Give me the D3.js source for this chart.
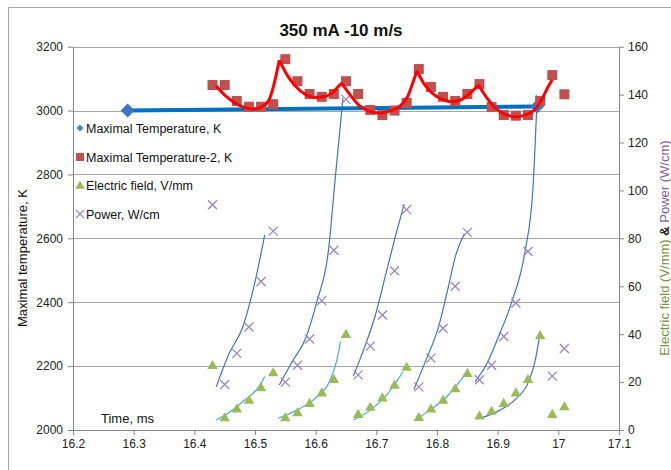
<!DOCTYPE html>
<html>
<head>
<meta charset="utf-8">
<script src="https://cdn.jsdelivr.net/npm/d3@7"></script>
<style>
  body { margin: 0; background: #fff; }
  svg { display: block; font-family: "Liberation Sans", Arial, sans-serif; }
</style>
</head>
<body>
<div id="chart"></div>
<script>
(function(){

const width = 671;
const height = 470;
const margin = {top: 46.7, right: 52, bottom: 40, left: 73};

// time axis (ms) shared by the sampled series
const timeMs = [16.43, 16.45, 16.47, 16.49, 16.51, 16.53, 16.55, 16.57, 16.59, 16.61,
                16.63, 16.65, 16.67, 16.69, 16.71, 16.73, 16.75, 16.77, 16.79, 16.81,
                16.83, 16.85, 16.87, 16.89, 16.91, 16.93, 16.95, 16.97, 16.99, 17.01];

const maxTemp2 = [3080, 3080, 3030, 3012, 3012, 3020, 3161, 3092, 3052, 3043,
                  3052, 3092, 3052, 3002, 2986, 3000, 3024, 3130, 3074, 3043,
                  3030, 3052, 3083, 3011, 2986, 2984, 2986, 3030, 3111, 3051];

const electricField = [26.7, 4.9, 8.6, 12.2, 17.4, 23.7, 4.9, 7.0, 10.9, 15.3,
                       20.9, 39.7, 6.3, 9.3, 13.2, 18.5, 26.0, 5.0, 8.6, 12.2,
                       17.0, 23.4, 5.6, 7.6, 10.9, 15.3, 20.9, 39.2, 6.3, 9.5];

const power = [94, 19, 32, 43, 62, 83, 20, 27, 38, 54,
               75, 138, 23, 35, 48, 66.5, 92, 18, 30, 42.5,
               60, 82.5, 21, 27, 39, 53, 74.5, 138, 22.5, 34];

// "Maximal Temperature, K" (two points joined by a thick line)
const maxTempTime = [16.29, 16.965];
const maxTemp = [3000, 3013];

// smooth fitted curves, one array per pulse
const tempFit = [
  [[16.436,3077],[16.452,3045],[16.467,3024],[16.482,3010],[16.497,3005],[16.511,3011],[16.523,3033],[16.531,3080],[16.540,3158]],
  [[16.540,3158],[16.553,3111],[16.568,3074],[16.582,3052],[16.599,3041],[16.615,3044],[16.629,3058],[16.638,3077],[16.643,3086]],
  [[16.643,3086],[16.657,3049],[16.673,3014],[16.690,2997],[16.706,2992],[16.723,2999],[16.739,3014],[16.752,3045],[16.760,3086],[16.767,3124]],
  [[16.767,3124],[16.779,3083],[16.792,3055],[16.808,3036],[16.825,3028],[16.842,3036],[16.855,3055],[16.868,3080]],
  [[16.868,3080],[16.881,3043],[16.896,3008],[16.912,2988],[16.929,2981],[16.945,2986],[16.962,3005],[16.975,3043],[16.983,3074],[16.990,3096]]
];

const powerFit = [
  [[16.436,18.0],[16.457,31.7],[16.480,43.1],[16.500,61.8],[16.516,81.4]],
  [[16.540,18.8],[16.561,28.4],[16.583,38.0],[16.602,53.6],[16.621,74.8],[16.632,104.4],[16.645,138.6]],
  [[16.662,22.5],[16.681,34.8],[16.698,47.6],[16.717,66.5],[16.732,81.4],[16.746,94.3]],
  [[16.762,17.0],[16.783,29.9],[16.802,42.5],[16.819,60.1],[16.831,73.1],[16.845,81.8]],
  [[16.863,20.2],[16.881,27.1],[16.901,38.7],[16.923,53.3],[16.945,74.4],[16.958,100.2],[16.965,138.6]]
];

const fieldFit = [
  [[16.436,4.2],[16.459,7.6],[16.483,12.5],[16.503,17.0],[16.516,22.2]],
  [[16.538,4.9],[16.569,8.3],[16.599,13.2],[16.624,20.9],[16.635,29.2],[16.641,36.9]],
  [[16.662,4.2],[16.690,8.3],[16.717,14.6],[16.744,24.3]],
  [[16.764,4.2],[16.788,8.3],[16.816,13.9],[16.846,23.0]],
  [[16.871,4.9],[16.904,8.3],[16.931,13.2],[16.951,20.2],[16.962,29.2],[16.969,38.9]]
];
const fieldFitColors = ["#4BACC6", "#4BACC6", "#4BACC6", "#4BACC6", "#4472C4"];

// tick labels
const xTicks = [16.2, 16.3, 16.4, 16.5, 16.6, 16.7, 16.8, 16.9, 17.0, 17.1];
const leftTicks = [2000, 2200, 2400, 2600, 2800, 3000, 3200];
const rightTicks = [0, 20, 40, 60, 80, 100, 120, 140, 160];

const legendLabels = ["Maximal Temperature, K", "Maximal Temperature-2, K", "Electric field, V/mm", "Power, W/cm"];

const svg = d3.select("#chart")
  .append("svg")
  .attr("width", width)
  .attr("height", height);

// outer chart frame
svg.append("path")
  .attr("d", `M8.5,${height} V7.5 H${width}`)
  .attr("fill", "none")
  .attr("stroke", "#a6a6a6");

const x = d3.scaleLinear()
  .domain([16.2, 17.1])
  .range([margin.left, width - margin.right]);

const yL = d3.scaleLinear()
  .domain([2000, 3200])
  .range([height - margin.bottom, margin.top]);

const yR = d3.scaleLinear()
  .domain([0, 160])
  .range([height - margin.bottom, margin.top]);

// gridlines
svg.append("g")
  .selectAll("line")
  .data(leftTicks.slice(1))
  .enter()
  .append("line")
  .attr("x1", margin.left)
  .attr("x2", width - margin.right)
  .attr("y1", d => Math.round(yL(d)) + 0.5)
  .attr("y2", d => Math.round(yL(d)) + 0.5)
  .attr("stroke", "#a6a6a6")
  .attr("stroke-width", 1.2);

// axes
function styleAxis(g) {
  g.select(".domain").attr("stroke", "#868686");
  g.selectAll(".tick line").attr("stroke", "#868686");
  g.selectAll(".tick text")
    .attr("fill", "#222")
    .style("font-size", "12px")
    .style("font-family", "'Liberation Sans', Arial, sans-serif");
}

svg.append("g")
  .attr("transform", `translate(0,${height - margin.bottom})`)
  .call(d3.axisBottom(x).tickValues(xTicks).tickSize(5).tickPadding(4).tickSizeOuter(0)
    .tickFormat(d3.format("~g")))
  .call(styleAxis);

svg.append("g")
  .attr("transform", `translate(${margin.left},0)`)
  .call(d3.axisLeft(yL).tickValues(leftTicks).tickSize(5).tickPadding(5).tickSizeOuter(0)
    .tickFormat(d3.format("d")))
  .call(styleAxis);

svg.append("g")
  .attr("transform", `translate(${width - margin.right},0)`)
  .call(d3.axisRight(yR).tickValues(rightTicks).tickSize(5).tickPadding(4).tickSizeOuter(0)
    .tickFormat(d3.format("d")))
  .call(styleAxis);

// title
svg.append("text")
  .attr("x", 341)
  .attr("y", 36)
  .attr("text-anchor", "middle")
  .style("font-size", "17px")
  .style("font-weight", "bold")
  .attr("fill", "#111")
  .text("350 mA -10 m/s");

// axis titles
svg.append("text")
  .attr("transform", "rotate(-90)")
  .attr("x", -258)
  .attr("y", 27)
  .attr("text-anchor", "middle")
  .style("font-size", "13px")
  .attr("fill", "#111")
  .text("Maximal temperature, K");

const rTitle = svg.append("text")
  .attr("transform", "rotate(-90)")
  .attr("x", -248)
  .attr("y", 669)
  .attr("text-anchor", "middle")
  .style("font-size", "13px");
rTitle.append("tspan").attr("fill", "#77933C").text("Electric  field (V/mm) ");
rTitle.append("tspan").attr("fill", "#222").style("font-weight", "bold").text("&");
rTitle.append("tspan").attr("fill", "#8064A2").text(" Power (W/cm)");

svg.append("text")
  .attr("x", 101)
  .attr("y", 423)
  .style("font-size", "13px")
  .attr("fill", "#111")
  .text("Time, ms");

// fitted curves
const fitLineR = d3.line()
  .x(d => x(d[0]))
  .y(d => yR(d[1]))
  .curve(d3.curveMonotoneX);

svg.append("g")
  .selectAll("path")
  .data(powerFit)
  .enter()
  .append("path")
  .attr("fill", "none")
  .attr("stroke", "#4472C4")
  .attr("stroke-width", 1.2)
  .attr("d", fitLineR);

svg.append("g")
  .selectAll("path")
  .data(fieldFit)
  .enter()
  .append("path")
  .attr("fill", "none")
  .attr("stroke", (d, i) => fieldFitColors[i])
  .attr("stroke-width", 1.2)
  .attr("d", fitLineR);

// electric field triangles
const tri = d3.symbol().type(d3.symbolTriangle).size(48);
svg.append("g")
  .selectAll("path")
  .data(timeMs)
  .enter()
  .append("path")
  .attr("transform", (d, i) => `translate(${x(d)},${yR(electricField[i])})`)
  .attr("d", tri)
  .attr("fill", "#9BBB59");

// power crosses
const cross = "M-4.5,-4.5L4.5,4.5M-4.5,4.5L4.5,-4.5";
svg.append("g")
  .selectAll("path")
  .data(timeMs)
  .enter()
  .append("path")
  .attr("transform", (d, i) => `translate(${x(d)},${yR(power[i])})`)
  .attr("d", cross)
  .attr("fill", "none")
  .attr("stroke", "#9A86BC")
  .attr("stroke-width", 1.3);

// maximal temperature thick line + diamonds
svg.append("path")
  .datum(maxTempTime)
  .attr("fill", "none")
  .attr("stroke", "#0070C0")
  .attr("stroke-width", 4)
  .attr("d", d3.line().x(d => x(d)).y((d, i) => yL(maxTemp[i])));

const diamond = "M0,-7L7,0L0,7L-7,0Z";
svg.append("g")
  .selectAll("path")
  .data(maxTempTime)
  .enter()
  .append("path")
  .attr("transform", (d, i) => `translate(${x(d)},${yL(maxTemp[i])})`)
  .attr("d", diamond)
  .attr("fill", "#3A78C6");

// maximal temperature-2 squares
svg.append("g")
  .selectAll("rect")
  .data(timeMs)
  .enter()
  .append("rect")
  .attr("x", d => x(d) - 5)
  .attr("y", (d, i) => yL(maxTemp2[i]) - 5)
  .attr("width", 10)
  .attr("height", 10)
  .attr("fill", "#C0504D");

// red fit curve
svg.append("g")
  .selectAll("path")
  .data(tempFit)
  .enter()
  .append("path")
  .attr("fill", "none")
  .attr("stroke", "#FF0000")
  .attr("stroke-width", 3)
  .attr("stroke-linejoin", "round")
  .attr("d", d3.line().x(d => x(d[0])).y(d => yL(d[1])).curve(d3.curveMonotoneX));

// legend
const legend = svg.append("g")
  .attr("transform", "translate(80,0)");
const legendY = [128, 157, 185, 214];

legend.append("path")
  .attr("transform", `translate(0,${legendY[0]})`)
  .attr("d", "M0,-3.5L3.5,0L0,3.5L-3.5,0Z")
  .attr("fill", "#4F81BD");
legend.append("rect")
  .attr("x", -4).attr("y", legendY[1] - 4)
  .attr("width", 8).attr("height", 8)
  .attr("fill", "#C0504D");
legend.append("path")
  .attr("transform", `translate(0,${legendY[2] + 1})`)
  .attr("d", d3.symbol().type(d3.symbolTriangle).size(40))
  .attr("fill", "#9BBB59");
legend.append("path")
  .attr("transform", `translate(0,${legendY[3]})`)
  .attr("d", "M-4,-4L4,4M-4,4L4,-4")
  .attr("stroke", "#9A86BC")
  .attr("stroke-width", 1.2);

legend.selectAll("text")
  .data(legendLabels)
  .enter()
  .append("text")
  .attr("x", 6)
  .attr("y", (d, i) => legendY[i] + 4.5)
  .style("font-size", "12.5px")
  .attr("fill", "#111")
  .text(d => d);

})();
</script>
</body>
</html>
